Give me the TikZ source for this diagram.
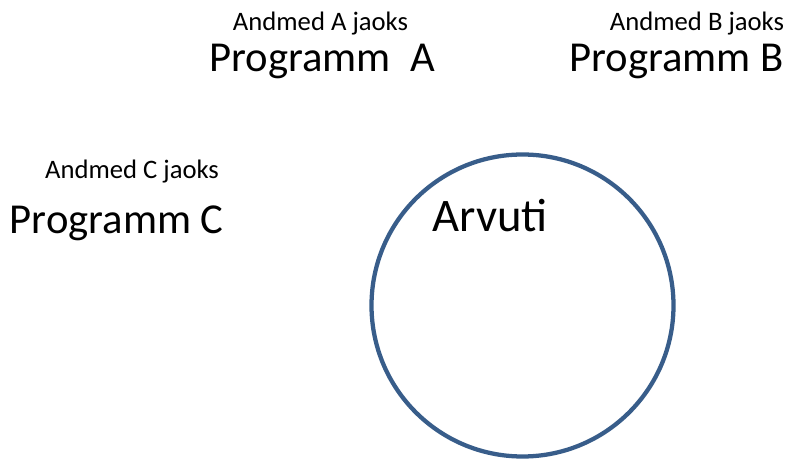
\documentclass[tikz,border=0pt]{standalone}
\usepackage{fontspec}
\setmainfont{Carlito}
\usetikzlibrary{positioning}
\definecolor{RingBlue}{HTML}{385D8A}

\begin{document}
\begin{tikzpicture}[x=0.75pt, y=-0.75pt,
    progname/.style={anchor=base, inner sep=0pt, font=\fontsize{32}{38}\selectfont},
    datalabel/.style={anchor=base, inner sep=0pt, font=\fontsize{20}{24}\selectfont}]
    \useasboundingbox (0,0) rectangle (786,459);
    % the computer
    \node[draw=RingBlue, line width=3.2pt, circle, minimum size=226.5pt, inner sep=0pt] (arvuti) at (522.5,305.5) {};
    \node[anchor=base, inner sep=0pt, font=\fontsize{35}{42}\selectfont] (arvutiname) at (490,231.7) {Arvuti};
    % programs with their data
    \node[datalabel] (dataA) at (320.5,30.7) {Andmed A jaoks};
    \node[progname] (progA) at (322,71.7) {Programm\ \ A};
    \node[datalabel] (dataB) at (697,30.7) {Andmed B jaoks};
    \node[progname] (progB) at (676.5,71.7) {Programm B};
    \node[datalabel] (dataC) at (132,178.5) {Andmed C jaoks};
    \node[progname] (progC) at (116.7,233.3) {Programm C};
\end{tikzpicture}
\end{document}
